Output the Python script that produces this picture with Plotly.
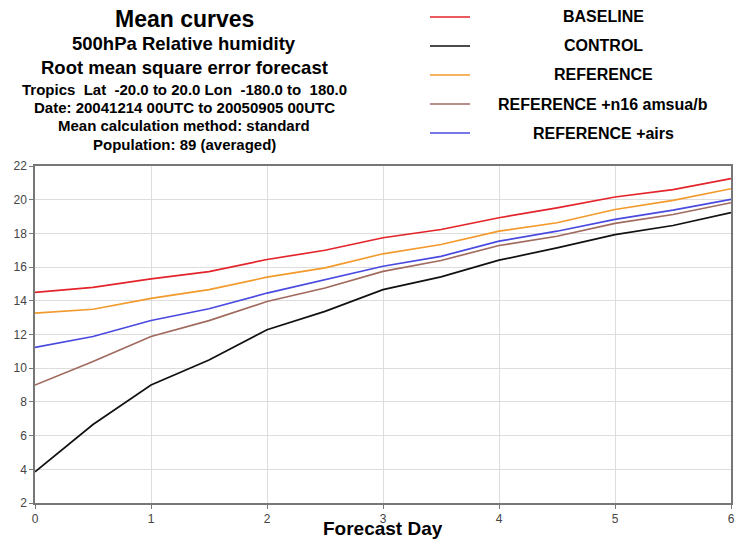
import plotly.graph_objects as go

days = [0, 0.5, 1, 1.5, 2, 2.5, 3, 3.5, 4, 4.5, 5, 5.5, 6]
baseline = [14.5, 14.8, 15.3, 15.73, 16.45, 17.0, 17.74, 18.23, 18.93, 19.52, 20.16, 20.6, 21.25]
control = [3.85, 6.66, 9.0, 10.49, 12.28, 13.37, 14.66, 15.42, 16.41, 17.14, 17.93, 18.47, 19.23]
reference = [13.27, 13.5, 14.14, 14.66, 15.4, 15.95, 16.79, 17.34, 18.13, 18.63, 19.42, 19.96, 20.65]
ref_n16 = [9.0, 10.4, 11.88, 12.82, 13.96, 14.76, 15.75, 16.39, 17.28, 17.83, 18.59, 19.12, 19.82]
ref_airs = [11.23, 11.88, 12.83, 13.53, 14.46, 15.26, 16.05, 16.64, 17.54, 18.13, 18.83, 19.38, 20.02]

series_names = ["BASELINE", "CONTROL", "REFERENCE", "REFERENCE +n16 amsua/b", "REFERENCE +airs"]
series_vals = [baseline, control, reference, ref_n16, ref_airs]
colors = ["#e3242b", "#111111", "#f39a2c", "#a06a5e", "#4a4ae0"]

title_lines = [
    ("Mean curves", 23, 19),
    ("500hPa Relative humidity", 18.5, 44),
    ("Root mean square error forecast", 18.5, 68),
    ("Tropics  Lat  -20.0 to 20.0 Lon  -180.0 to  180.0", 15, 89),
    ("Date: 20041214 00UTC to 20050905 00UTC", 15, 107),
    ("Mean calculation method: standard", 15, 126),
    ("Population: 89 (averaged)", 15, 144),
]

W, H = 738, 541
L, T = 35, 166
R = W - 731
B = H - 503
PW, PH = W - L - R, H - T - B

def px(x):
    return (x - L) / PW

def py(y):
    return (H - B - y) / PH

fig = go.Figure()
for name, vals, col in zip(series_names, series_vals, colors):
    fig.add_trace(go.Scatter(x=days, y=vals, mode="lines", name=name,
                             line=dict(color=col, width=1.7), showlegend=False))

FONT = "Liberation Sans, Arial, Helvetica, sans-serif"
annotations = []
shapes = []
for text, size, y in title_lines:
    annotations.append(dict(text="<b>%s</b>" % text, x=px(184), y=py(y), xref="paper", yref="paper",
                            showarrow=False, xanchor="center", yanchor="middle",
                            font=dict(size=size, color="black", family=FONT)))

leg_y = [17, 46, 75, 104, 133]
for name, col, y in zip(series_names, colors, leg_y):
    shapes.append(dict(type="line", xref="paper", yref="paper", x0=px(430), x1=px(470),
                       y0=py(y), y1=py(y), line=dict(color=col, width=1.7)))
    annotations.append(dict(text="<b>%s</b>" % name, x=px(603), y=py(y), xref="paper", yref="paper",
                            showarrow=False, xanchor="center", yanchor="middle",
                            font=dict(size=16, color="black", family=FONT)))

annotations.append(dict(text="<b>Forecast Day</b>", x=px(383), y=py(541), xref="paper", yref="paper",
                        showarrow=False, xanchor="center", yanchor="bottom",
                        font=dict(size=19, color="black", family=FONT)))

fig.update_layout(
    width=W, height=H,
    margin=dict(l=L, r=R, t=T, b=B, autoexpand=False),
    paper_bgcolor="white", plot_bgcolor="white",
    annotations=annotations, shapes=shapes,
    font=dict(family=FONT, color="#333333"),
)
axis_common = dict(showgrid=True, gridcolor="#dddddd", gridwidth=1,
                   showline=True, linecolor="#777777", linewidth=1.5, mirror=True,
                   ticks="outside", ticklen=4, tickcolor="#777777",
                   tickfont=dict(size=12, color="#444444"), zeroline=False,
                   automargin=False, ticklabeloverflow="allow")
fig.update_xaxes(range=[0, 6], tickmode="array", tickvals=[0, 1, 2, 3, 4, 5, 6], **axis_common)
fig.update_yaxes(range=[2, 22], tickmode="array", tickvals=list(range(2, 23, 2)), **axis_common)

fig.write_html("out.html", config={"displayModeBar": False},
               post_script="document.body.style.margin='0';document.body.style.overflow='hidden';")
